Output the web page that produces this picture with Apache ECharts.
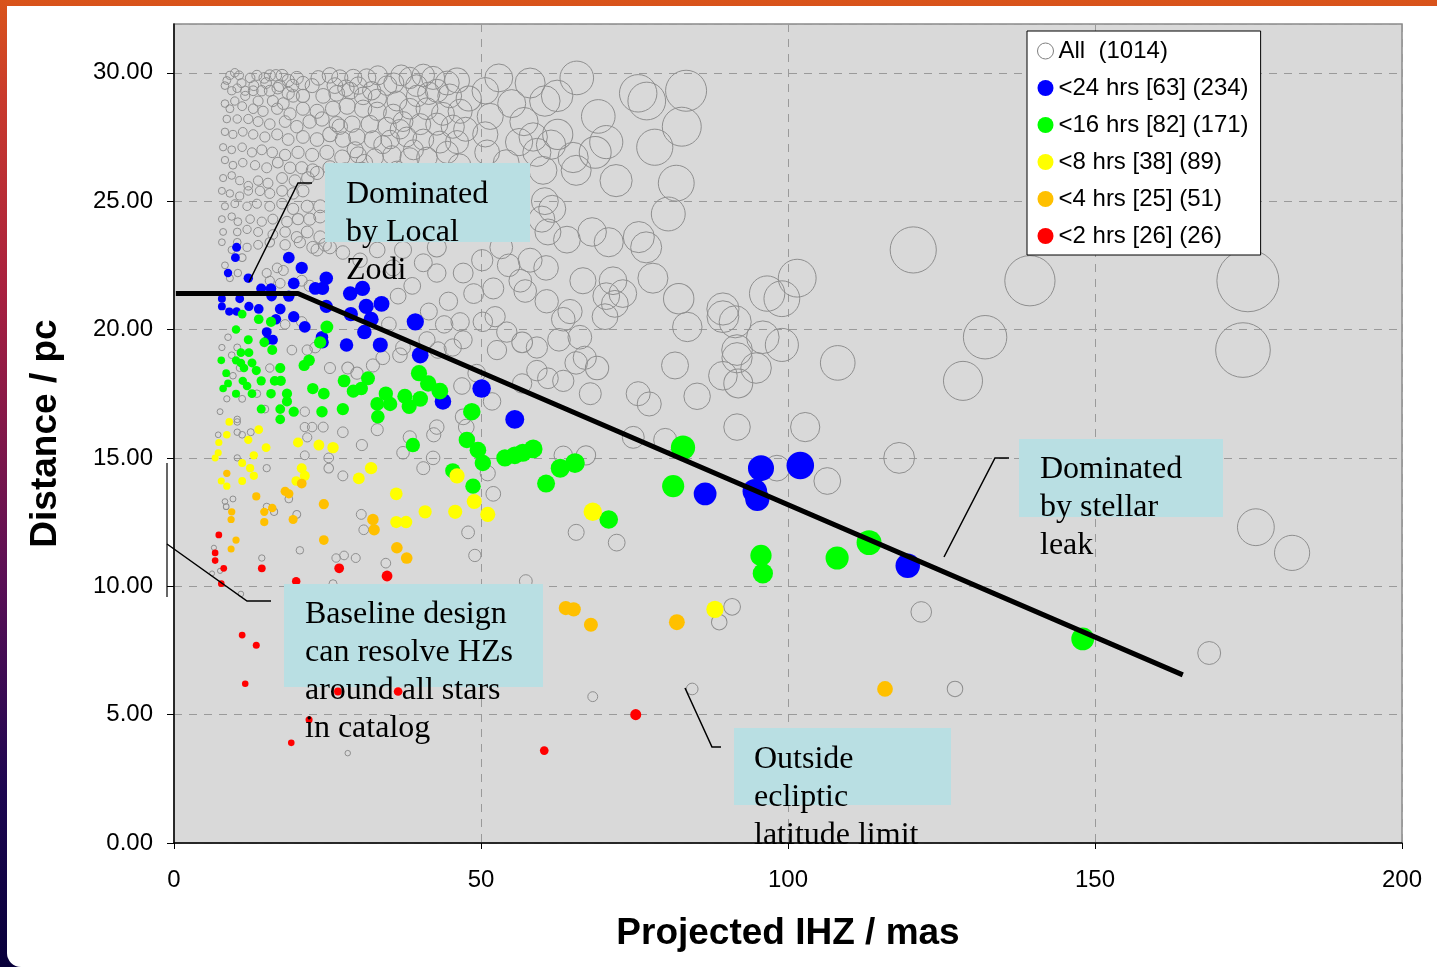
<!DOCTYPE html>
<html>
<head>
<meta charset="utf-8">
<title>Projected IHZ vs Distance</title>
<script src="https://cdn.jsdelivr.net/npm/echarts@6/dist/echarts.min.js"></script>
<style>
  html, body { margin: 0; padding: 0; width: 1437px; height: 967px; overflow: hidden; }
  body { background: linear-gradient(to bottom, #d9541a 0%, #c93a2c 10%, #a8203f 30%, #5a0f55 60%, #1c0650 82%, #08003a 100%); position: relative; }
  #card { position: absolute; left: 7px; top: 6px; right: 0; bottom: 0; background: #fff; border-bottom-left-radius: 14px; }
  #chart { position: absolute; left: 0; top: 0; width: 1437px; height: 967px; }
</style>
</head>
<body>
<div id="card"></div>
<div id="chart"></div>
<script>
// Axis ticks
const xTicks = [0, 50, 100, 150, 200];
const yTicks = [0, 5, 10, 15, 20, 25, 30];

// Legend entries (series names)
const seriesNames = ['All  (1014)', '<24 hrs [63] (234)', '<16 hrs [82] (171)', '<8 hrs [38] (89)', '<4 hrs [25] (51)', '<2 hrs [26] (26)'];

// [projected IHZ (mas), distance (pc)] for every star in the catalog
const allStars = [
  [9.1,29.9],[9.9,30.0],[10.6,29.9],[8.6,29.7],[12.4,29.8],[13.5,29.9],[14.7,29.8],[15.6,29.9],[16.6,29.9],[17.6,29.9],[18.6,29.7],[20.0,29.8],[21.0,29.6],[22.5,29.5],
  [25.4,29.9],[27.0,29.8],[29.2,29.8],[31.4,29.8],[33.2,29.9],[34.7,29.5],[38.4,29.8],[40.6,29.9],[42.2,29.8],[44.5,29.6],[46.1,29.7],[44.9,29.1],[42.8,29.3],
  [11.0,29.6],[13.0,29.5],[15.0,29.6],[17.2,29.5],[19.3,29.5],[23.5,29.8],[26.2,29.5],[28.0,29.4],[30.0,29.5],[32.2,29.3],[35.8,29.6],[37.0,29.9],[39.5,29.5],[41.5,29.2],
  [8.3,29.5],[9.4,29.3],[10.3,29.4],[11.6,29.3],[12.9,29.3],[14.3,29.3],[15.6,29.3],[16.9,29.4],[18.6,29.2],[11.6,29.1],[9.9,28.9],[8.3,28.8],[13.7,28.9],[16.1,28.9],[17.8,28.8],[21.0,29.1],[19.4,29.1],[24.3,29.1],[26.5,29.2],[28.7,29.3],[30.8,29.1],[33.1,29.0],[36.3,28.9],[39.6,29.1],
  [9.1,28.6],[11.1,28.7],[12.9,28.6],[14.5,28.5],[16.8,28.6],[18.9,28.4],[21.0,28.6],[23.3,28.5],[25.9,28.6],[28.2,28.7],[30.8,28.6],[33.1,28.5],[35.7,28.4],[38.4,28.6],[41.2,28.6],[43.8,28.4],[46.6,28.5],
  [8.6,28.2],[10.3,28.2],[12.1,28.2],[13.7,28.1],[15.6,28.0],[18.1,28.1],[20.0,27.9],[22.1,28.1],[24.1,28.2],[26.5,28.0],[29.0,28.0],[31.9,28.0],[34.7,27.9],[37.3,28.1],[40.1,28.0],[42.8,28.0],[45.4,27.9],
  [8.3,27.7],[9.6,27.6],[11.2,27.7],[12.9,27.6],[14.8,27.5],[16.8,27.6],[18.6,27.4],[21.0,27.5],[23.3,27.4],[25.4,27.6],[27.5,27.4],[29.8,27.5],[32.4,27.4],[35.2,27.4],[37.9,27.5],[40.6,27.4],[43.3,27.3],[46.1,27.3],
  [27.0,27.9],[29.5,27.0],[31.0,26.5],[34.0,27.2],[36.8,27.8],[39.0,27.0],[44.5,26.9],[47.5,27.8],[48.0,29.0],[46.5,26.4],[51.5,28.3],[55.0,28.8],[58.0,29.6],[57.0,28.1],
  [8.0,27.1],[9.4,27.0],[11.1,27.1],[12.7,26.9],[14.3,27.0],[16.0,26.9],[18.1,26.8],[20.2,26.9],[22.5,26.8],[24.9,26.9],[27.4,26.7],[30.0,26.8],[32.7,26.7],[35.5,26.8],[38.4,26.7],[41.2,26.7],
  [8.3,26.6],[9.6,26.4],[11.2,26.5],[13.2,26.4],[15.1,26.3],[16.9,26.5],[18.9,26.3],[20.8,26.3],[22.6,26.2],[25.4,26.3],[27.9,26.2],[30.6,26.2],[33.2,26.1],[36.3,26.2],
  [8.0,25.9],[9.4,26.0],[10.7,25.8],[12.1,25.6],[13.7,25.8],[15.3,25.7],[17.6,25.9],[19.7,25.8],[21.8,25.9],[23.3,26.1],
  [7.8,25.4],[9.1,25.3],[10.7,25.2],[12.1,25.4],[14.0,25.4],[15.6,25.3],[17.6,25.4],[19.4,25.3],[21.0,25.4],
  [8.3,24.8],[9.9,24.9],[11.9,24.8],[13.5,24.9],[15.6,24.8],[17.6,24.9],[19.4,24.7],[21.7,24.8],[23.8,24.8],
  [7.8,24.3],[9.4,24.4],[10.4,24.2],[12.4,24.3],[14.3,24.2],[16.1,24.3],[18.4,24.2],[20.2,24.3],[22.1,24.3],[23.8,24.4],
  [8.0,23.8],[10.3,23.8],[11.9,23.9],[13.7,23.8],[16.1,23.7],[18.1,23.8],[20.0,23.6],[21.7,23.8],[23.8,23.6],
  [7.8,23.4],[10.3,23.4],[11.9,23.2],[13.7,23.3],[15.6,23.4],[18.1,23.3],[20.5,23.4],[22.6,23.2],[24.6,23.3],
  [9.4,23.1],[11.1,22.8],[8.3,22.5],[10.4,22.2],[9.1,22.0],[15.1,22.2],[16.8,22.4],[17.8,22.3],[15.6,21.9],[17.3,21.8],[20.8,21.9],[22.1,21.7],
  [20.8,20.3],[18.1,20.2],[19.2,19.2],[8.8,19.7],[9.4,19.0],[7.8,19.3],[10.3,19.3],[10.7,18.5],[9.6,18.2],[13.5,17.5],[11.1,17.3],[8.6,17.3],[7.5,16.8],[10.3,16.5],[14.8,16.9],[21.3,16.8],
  [15.6,18.5],[21.7,19.2],[23.0,19.3],[25.4,18.5],[28.3,18.5],[29.8,18.3],[32.4,18.6],[34.0,18.9],[36.8,19.0],[37.3,19.3],[41.2,19.6],[43.0,19.2],[45.4,19.3],[47.1,19.6],[46.6,20.3],[50.3,20.3],
  [50.2,22.7],[47.1,22.2],[42.8,22.2],[40.6,22.6],[38.8,21.7],[35.7,22.4],[30.3,22.7],[33.1,23.1],[27.5,23.0],[25.4,23.2],[23.3,23.1],[37.3,23.1],[42.8,23.2],
  [48.8,21.4],[44.7,21.1],[41.5,20.7],[36.5,21.3],[35.0,20.2],[44.0,20.2],[52.0,21.6],[54.5,22.5],
  [46.9,17.8],[49.3,18.3],[47.1,16.6],[42.8,16.2],[38.4,15.8],[33.1,16.1],[27.5,16.0],[24.3,16.2],[21.7,15.8],
  [52.9,29.8],[50.7,29.3],[65.6,29.8],[60.4,28.9],[62.4,29.1],[69.1,28.3],[75.6,29.2],[77.0,28.9],[83.4,29.3],[82.7,27.9],[78.3,27.1],[81.8,25.7],[80.5,24.5],
  [72.0,25.8],[68.6,26.9],[70.4,27.3],[65.0,26.7],[65.5,26.2],[62.5,27.6],[58.5,27.5],[56.2,27.3],[61.4,27.2],[59.1,26.9],[60.1,26.2],[50.7,27.6],[51.0,26.9],[54.1,26.5],
  [60.4,25.0],[61.6,24.7],[59.9,24.3],[60.9,23.8],[64.0,23.5],[68.1,23.8],[70.8,23.4],[75.7,23.6],[76.9,23.2],[53.3,23.2],[58.0,22.7],[60.6,22.4],[56.4,21.9],[57.2,21.5],[60.7,21.1],
  [66.6,21.9],[71.5,21.9],[73.1,21.4],[70.4,21.3],[78.0,22.0],[82.2,21.2],[89.4,20.8],[96.6,21.4],[99.0,21.2],[101.5,22.0],
  [52.3,20.5],[54.2,19.9],[56.7,19.5],[59.1,19.3],[52.6,19.2],[62.7,19.6],[66.1,19.7],[63.4,20.4],[64.5,20.7],[70.2,20.5],[71.8,21.0],
  [59.1,18.4],[60.9,18.1],[63.4,18.0],[65.5,18.7],[66.9,18.9],[68.9,18.5],[56.7,17.9],[67.8,17.5],[51.8,17.2],[75.6,17.5],[77.4,17.1],[81.6,18.6],[85.2,17.4],
  [83.6,20.1],[89.4,20.5],[91.4,20.3],[95.9,19.7],[99.0,19.4],[91.7,19.2],[91.7,18.9],[89.4,18.2],[91.9,17.9],[94.8,18.5],[91.7,16.2],[74.8,15.8],[80.0,15.7],[98.2,14.6],
  [51.1,14.4],[52.0,13.6],[63.4,15.1],[67.1,15.1],[65.5,12.1],[72.1,11.7],
  [7.2,15.9],[10.3,16.0],[11.1,15.9],[12.5,16.0],[10.3,16.4],[21.3,16.2],[22.5,16.2],[15.1,14.6],[10.3,15.0],[25.2,14.6],[21.3,15.1],[25.2,15.0],[27.5,14.3],[30.6,15.5],[37.3,15.2],[42.3,15.9],[47.6,16.2],[42.2,15.0],[40.6,14.6],
  [8.3,13.3],[9.6,13.4],[8.5,13.1],[15.1,13.1],[16.3,12.9],[18.7,13.4],[20.0,12.8],[30.5,12.8],[30.9,12.2],[20.5,11.4],[6.5,11.5],[7.5,10.6],[6.2,10.5],[14.3,11.1],[26.4,11.1],[27.7,11.2],[29.6,11.1],[34.5,10.9],[47.9,12.1],[49.0,11.2],[10.9,9.7],
  [120.4,23.1],[139.4,21.9],[174.9,21.9],[132.1,19.7],[174.1,19.2],[108.1,18.7],[128.5,18.0],[102.8,16.2],[118.1,15.0],[106.4,14.1],[176.2,12.3],[182.1,11.3],
  [121.7,9.0],[168.6,7.4],[127.2,6.0],[84.4,6.0],[68.2,5.7],[57.3,10.2],[90.9,9.2],[88.8,8.6],[28.3,3.5],[25.9,10.1]
];

// Stars reachable within each integration time
const under24h = [
  [10.2,23.2],[10.0,22.8],[8.8,22.2],[12.1,22.0],[18.7,22.8],[20.8,22.4],[24.8,22.0],[19.5,21.8],[14.2,21.6],[15.8,21.6],[15.9,21.3],[18.7,21.3],[23.0,21.6],[24.2,21.6],
  [28.7,21.4],[30.7,21.6],[31.3,20.9],[33.8,21.0],[7.8,21.2],[7.8,20.9],[10.7,21.2],[12.2,20.9],[9.0,20.7],[10.2,20.7],[13.8,20.8],[17.3,20.8],[16.6,20.4],[19.5,20.5],
  [24.8,20.9],[28.8,20.6],[32.1,20.4],[21.3,20.1],[15.1,19.9],[15.3,19.6],[16.1,19.6],[24.1,19.7],[24.2,19.5],[31.0,19.9],[28.1,19.4],[33.6,19.4],[39.3,20.3],[40.1,19.0],
  [50.1,17.7],[43.8,17.2],[55.5,16.5],[86.5,13.6],[95.6,14.6],[94.6,13.7],[95.0,13.4],[102.0,14.7],[119.5,10.8]
];
const under16h = [
  [11.1,20.6],[13.8,20.4],[15.8,20.3],[10.1,20.0],[12.1,19.6],[14.7,19.5],[16.0,19.2],[24.9,20.1],[23.8,19.5],[7.7,18.8],[10.9,19.1],[12.2,19.1],[10.1,18.8],[10.9,18.7],
  [12.7,18.7],[11.4,18.5],[13.4,18.4],[17.3,18.5],[21.2,18.6],[22.0,18.8],[8.5,18.3],[8.8,17.9],[11.2,18.0],[11.9,17.8],[8.0,17.7],[14.2,18.0],[16.4,18.0],[17.4,18.0],
  [10.1,17.5],[12.7,17.5],[15.8,17.5],[18.4,17.5],[18.4,17.2],[22.6,17.7],[24.4,17.5],[14.2,16.9],[17.3,16.9],[19.5,16.8],[17.3,16.5],[24.1,16.8],[27.5,16.9],[27.7,18.0],
  [29.2,17.6],[30.5,17.7],[31.6,18.1],[34.5,17.5],[33.1,17.1],[35.2,17.1],[33.2,16.6],[37.6,17.4],[38.3,17.0],[40.1,17.3],[39.9,18.3],[41.4,17.9],[43.3,17.6],[48.5,16.8],
  [47.7,15.7],[38.9,15.5],[49.5,15.3],[50.3,14.8],[45.4,14.5],[48.7,13.9],[53.9,15.0],[55.5,15.1],[56.8,15.2],[58.5,15.35],[62.9,14.6],[65.3,14.8],[60.6,14.0],[70.8,12.6],
  [82.9,15.4],[81.3,13.9],[95.6,11.2],[95.9,10.5],[113.2,11.7],[108.0,11.1],[148.0,7.95]
];
const under8h = [
  [9.0,16.4],[13.8,16.1],[7.3,15.6],[8.6,15.9],[12.1,15.7],[15.0,15.4],[20.2,15.6],[23.6,15.5],[25.9,15.4],[7.2,15.2],[6.7,15.0],[11.1,14.8],[12.4,14.6],[13.0,15.1],
  [20.8,14.6],[21.3,14.3],[19.9,14.1],[32.1,14.6],[30.1,14.2],[7.7,14.1],[8.6,13.9],[11.1,14.1],[13.0,14.3],[36.2,13.6],[40.9,12.9],[45.8,12.9],[36.2,12.5],[37.8,12.5],
  [48.9,13.3],[46.1,14.3],[51.1,12.8],[68.2,12.9],[88.1,9.1]
];
const under4h = [
  [8.6,14.4],[20.8,14.0],[18.1,13.7],[18.7,13.6],[13.4,13.5],[24.4,13.2],[9.4,12.9],[14.7,12.9],[16.0,13.05],[9.3,12.6],[14.7,12.5],[19.4,12.6],[32.4,12.6],[32.6,12.2],
  [10.1,11.8],[9.3,11.45],[24.4,11.8],[36.3,11.5],[37.9,11.1],[63.8,9.15],[65.1,9.1],[67.9,8.5],[81.9,8.6],[115.8,6.0]
];
const under2h = [
  [7.3,12.0],[6.7,11.3],[6.7,11.0],[8.1,10.7],[14.3,10.7],[7.7,10.1],[26.9,10.7],[34.7,10.4],[19.9,10.2],[11.1,8.1],[13.4,7.7],[11.6,6.2],[26.7,5.9],[36.5,5.9],
  [22.0,4.8],[19.1,3.9],[60.3,3.6],[75.2,5.0]
];

// Boundary between local-zodi and stellar-leak limited regimes
const limitLine = [[0.3, 21.4], [20.2, 21.4], [164.3, 6.55]];

const colors = ['#ffffff', '#0000ff', '#00ff00', '#ffff00', '#ffc000', '#ff0000'];
const groups = [allStars, under24h, under16h, under8h, under4h, under2h];

// Bubble diameter follows the habitable-zone radius (IHZ x distance)
function ringSize(v) { return 4 + v[0] * v[1] / 66; }
function dotSize(v) { return 5.5 + v[0] * v[1] / 68; }

const sans = 'Arial, "Liberation Sans", sans-serif';
const serif = '"Times New Roman", "Liberation Serif", serif';

const series = groups.map((data, i) => ({
  name: seriesNames[i],
  type: 'scatter',
  data: data,
  symbol: 'circle',
  symbolSize: i === 0 ? ringSize : dotSize,
  z: 2 + i,
  animation: false,
  silent: true,
  itemStyle: i === 0
    ? { color: 'rgba(0,0,0,0)', borderColor: '#8f8f8f', borderWidth: 1, opacity: 1 }
    : { color: colors[i], borderWidth: 0, opacity: 1 }
}));

series.push({
  name: 'limit',
  type: 'line',
  data: limitLine,
  symbol: 'none',
  z: 10,
  animation: false,
  silent: true,
  lineStyle: { color: '#000', width: 5, opacity: 1 }
});

function box(x, y, w, h) {
  return { type: 'rect', z: 50, shape: { x: x, y: y, width: w, height: h }, style: { fill: '#b9dfe3' } };
}
function note(x, y, text) {
  return { type: 'text', z: 51, x: x, y: y, style: { text: text, font: '32px ' + serif, fill: '#000', lineHeight: 38, verticalAlign: 'top' } };
}
function leader(points) {
  return { type: 'polyline', z: 51, shape: { points: points }, style: { stroke: '#000', lineWidth: 1.5, fill: null } };
}

const chart = echarts.init(document.getElementById('chart'), null, { renderer: 'canvas' });
chart.setOption({
  animation: false,
  backgroundColor: 'transparent',
  grid: { left: 174, top: 24, right: 35, bottom: 124, containLabel: false, outerBoundsMode: 'none',
    show: true, backgroundColor: '#d9d9d9', borderColor: '#8a8a8a', borderWidth: 1.5 },
  xAxis: {
    type: 'value', min: xTicks[0], max: xTicks[xTicks.length - 1], interval: 50,
    name: 'Projected IHZ / mas', nameLocation: 'middle', nameGap: 72,
    nameTextStyle: { fontFamily: sans, fontSize: 37, fontWeight: 'bold', color: '#000' },
    axisLine: { show: true, lineStyle: { color: '#000', width: 1.5 } },
    axisTick: { show: true, length: 6, lineStyle: { color: '#000' } },
    axisLabel: { fontFamily: sans, fontSize: 24, color: '#000', margin: 25 },
    splitLine: { show: true, lineStyle: { color: '#9a9a9a', type: [8, 7], width: 1 } }
  },
  yAxis: {
    type: 'value', min: yTicks[0], max: 31.9, interval: 5,
    name: 'Distance / pc', nameLocation: 'middle', nameGap: 110,
    nameTextStyle: { fontFamily: sans, fontSize: 37, fontWeight: 'bold', color: '#000' },
    axisLine: { show: true, lineStyle: { color: '#000', width: 1.5 } },
    axisTick: { show: true, length: 7, lineStyle: { color: '#000' } },
    axisLabel: { fontFamily: sans, fontSize: 24, color: '#000', margin: 21, showMaxLabel: false,
      formatter: v => (yTicks.indexOf(v) >= 0 ? v.toFixed(2) : '') },
    splitLine: { show: true, lineStyle: { color: '#9a9a9a', type: [8, 7], width: 1 } }
  },
  legend: {
    orient: 'vertical', left: 1027, top: 31,
    data: seriesNames.map((n, i) => ({
      name: n, icon: 'circle',
      itemStyle: i === 0 ? { color: '#ffffff', borderColor: '#808080', borderWidth: 1, opacity: 1 } : { color: colors[i], borderWidth: 0, opacity: 1 }
    })),
    itemWidth: 16, itemHeight: 16, itemGap: 13, itemTextGap: 8,
    padding: [8, 12, 7, 10],
    backgroundColor: '#ffffff', borderColor: '#000', borderWidth: 1,
    textStyle: { fontFamily: sans, fontSize: 24, color: '#000' },
    selectedMode: false
  },
  graphic: [
    box(325, 163, 205, 79),
    note(346, 176, 'Dominated\nby Local\nZodi'),
    leader([[249, 282], [298, 183], [312, 183]]),
    box(284, 584, 259, 103),
    note(305, 596, 'Baseline design\ncan resolve HZs\naround all stars\nin catalog'),
    leader([[167, 544], [247, 601], [271, 601]]),
    { type: 'line', z: 51, shape: { x1: 167, y1: 463, x2: 167, y2: 597 }, style: { stroke: '#000', lineWidth: 1.2 } },
    box(734, 728, 217, 77),
    note(754, 741, 'Outside\necliptic\nlatitude limit'),
    leader([[685, 688], [712, 747], [721, 747]]),
    box(1019, 439, 204, 78),
    note(1040, 451, 'Dominated\nby stellar\nleak'),
    leader([[944, 557], [995, 458], [1009, 458]])
  ],
  series: series
});
</script>
</body>
</html>
